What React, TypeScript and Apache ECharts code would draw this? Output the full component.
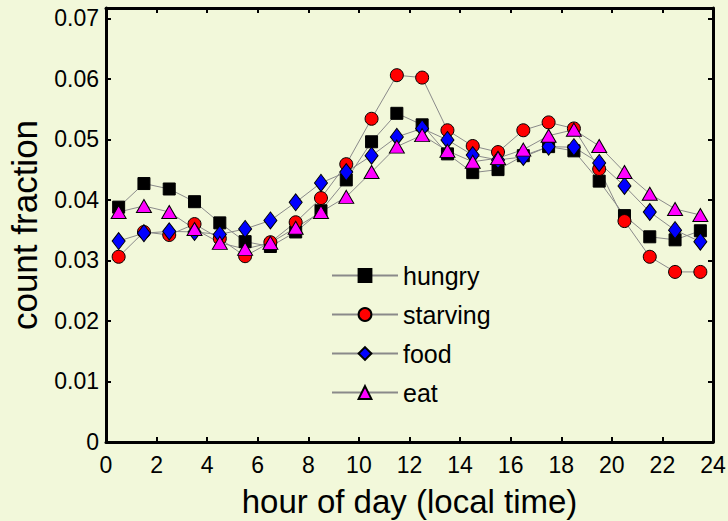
import React, { useEffect, useRef } from "react";
import * as echarts from "echarts";

const hours = [0.5, 1.5, 2.5, 3.5, 4.5, 5.5, 6.5, 7.5, 8.5, 9.5, 10.5, 11.5, 12.5, 13.5, 14.5, 15.5, 16.5, 17.5, 18.5, 19.5, 20.5, 21.5, 22.5, 23.5];

const hungry = [0.0388, 0.0427, 0.0418, 0.0397, 0.0362, 0.0331, 0.0323, 0.0347, 0.0382, 0.0433, 0.0496, 0.0543, 0.0524, 0.0476, 0.0445, 0.045, 0.0473, 0.0488, 0.0481, 0.0431, 0.0374, 0.0339, 0.0334, 0.0349];
const starving = [0.0306, 0.0347, 0.0342, 0.036, 0.0336, 0.0307, 0.033, 0.0363, 0.0403, 0.0459, 0.0534, 0.0606, 0.0602, 0.0515, 0.0489, 0.0479, 0.0515, 0.0528, 0.0518, 0.0451, 0.0365, 0.0306, 0.0281, 0.0281];
const food = [0.0332, 0.0345, 0.0348, 0.0347, 0.0343, 0.0352, 0.0366, 0.0396, 0.0428, 0.0446, 0.0473, 0.0504, 0.0518, 0.0499, 0.0474, 0.0466, 0.0471, 0.0488, 0.0487, 0.0461, 0.0423, 0.038, 0.035, 0.0331];
const eat = [0.038, 0.039, 0.038, 0.0352, 0.0329, 0.0319, 0.0329, 0.0354, 0.038, 0.0405, 0.0446, 0.0488, 0.0507, 0.0481, 0.0463, 0.0469, 0.0483, 0.0506, 0.0516, 0.0489, 0.0446, 0.041, 0.0385, 0.0375];

const seriesNames = ["hungry", "starving", "food", "eat"];
const xTicks = { min: 0, max: 24, interval: 2 };
const yTicks = { min: 0, max: 0.0717, interval: 0.01 };

const FONT = "Liberation Sans, Arial, sans-serif";

export default function App() {
  const ref = useRef<HTMLDivElement>(null);
  useEffect(() => {
    if (!ref.current) return;
    const chart = echarts.init(ref.current, undefined, { renderer: "svg" });
    const pair = (vals: number[]) => hours.map((h, i) => [h, vals[i]]);
    const lineStyle = { color: "#8a8a8a", width: 1 };
    const mk = (name: string, data: number[], symbol: string, size: any, color: string) => ({
      name,
      type: "line",
      data: pair(data),
      symbol,
      symbolSize: size,
      showSymbol: true,
      lineStyle,
      itemStyle: { color, borderColor: "#000", borderWidth: 1 },
      emphasis: { disabled: true },
    });
    const axisLine = { show: true, onZero: false, lineStyle: { color: "#000", width: 3 } };
    const axisTick = { show: true, inside: true, length: 5, lineStyle: { color: "#000", width: 2 } };
    chart.setOption({
      animation: false,
      backgroundColor: "#F2F8DA",
      grid: { left: 106, right: 15, top: 8, bottom: 79, containLabel: false, outerBoundsMode: "none" },
      legend: {
        data: seriesNames,
        orient: "vertical",
        left: 326,
        top: 258,
        itemWidth: 66,
        itemHeight: 16,
        itemGap: 14,
        textStyle: { fontFamily: FONT, fontSize: 25, color: "#000", lineHeight: 25 },
      },
      xAxis: [
        {
          type: "value",
          ...xTicks,
          name: "hour of day (local time)",
          nameLocation: "middle",
          nameGap: 43,
          nameTextStyle: { fontFamily: FONT, fontSize: 33, color: "#000" },
          axisLine,
          axisTick,
          splitLine: { show: false },
          axisLabel: { fontFamily: FONT, fontSize: 23, color: "#000", margin: 11 },
        },
        {
          type: "value",
          ...xTicks,
          position: "top",
          axisLine,
          axisTick,
          splitLine: { show: false },
          axisLabel: { show: false },
        },
      ],
      yAxis: [
        {
          type: "value",
          ...yTicks,
          name: "count fraction",
          nameLocation: "middle",
          nameGap: 64,
          nameTextStyle: { fontFamily: FONT, fontSize: 35, color: "#000" },
          axisLine,
          axisTick,
          splitLine: { show: false },
          axisLabel: { fontFamily: FONT, fontSize: 23, color: "#000", margin: 7, showMaxLabel: false },
        },
        {
          type: "value",
          ...yTicks,
          position: "right",
          axisLine,
          axisTick,
          splitLine: { show: false },
          axisLabel: { show: false },
        },
      ],
      series: [
        mk("hungry", hungry, "rect", 12, "#000000"),
        mk("starving", starving, "circle", 13, "#ff0000"),
        mk("food", food, "diamond", [13, 17], "#0000ff"),
        mk("eat", eat, "triangle", [15, 13], "#ff00ff"),
      ],
    });
    return () => chart.dispose();
  }, []);
  return <div ref={ref} style={{ width: 728, height: 521, position: "absolute", left: 0, top: 0 }} />;
}
